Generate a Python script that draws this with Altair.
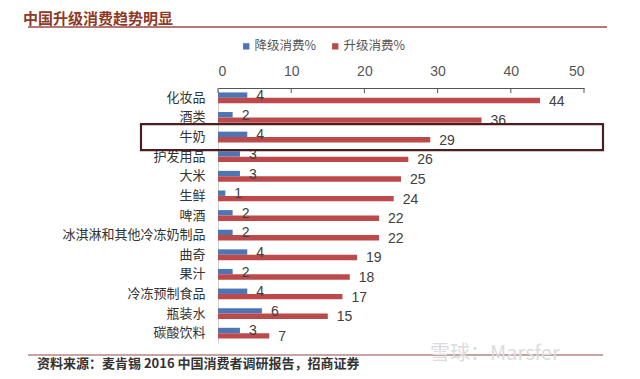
import altair as alt
import pandas as pd

categories = ["化妆品", "酒类", "牛奶", "护发用品", "大米", "生鲜", "啤酒",
              "冰淇淋和其他冷冻奶制品", "曲奇", "果汁", "冷冻预制食品", "瓶装水", "碳酸饮料"]
downgrade = [4, 2, 4, 3, 3, 1, 2, 2, 4, 2, 4, 6, 3]
upgrade = [44, 36, 29, 26, 25, 24, 22, 22, 19, 18, 17, 15, 7]
series_names = ["降级消费%", "升级消费%"]
series_colors = ["#4F74B4", "#BC4A4B"]
x_ticks = [0, 10, 20, 30, 40, 50]
highlight = ["牛奶"]
title_text = ["中国升级消费趋势明显"]
source_text = ["资料来源：麦肯锡 2016 中国消费者调研报告，招商证券"]
watermark_text = ["雪球：Marsfer"]

rows = []
for c, d, u in zip(categories, downgrade, upgrade):
    rows.append({"cat": c, "series": series_names[0], "value": d})
    rows.append({"cat": c, "series": series_names[1], "value": u})
df = pd.DataFrame(rows)

W, H = 366, 255
CJK = "Noto Sans CJK SC"
NUM = "Liberation Sans"

xscale = alt.Scale(domain=[0, 50], nice=False, zero=True)
yscale = alt.Scale(domain=categories, paddingInner=0.45, paddingOuter=0.225)
yoff = alt.YOffset("series:N", scale=alt.Scale(domain=series_names, paddingInner=0))

base = alt.Chart(df)

bars = base.mark_bar().encode(
    x=alt.X("value:Q", scale=xscale,
            axis=alt.Axis(orient="top", values=x_ticks, title=None, grid=False,
                          ticks=False, tickSize=0, labelPadding=10,
                          labelFont=NUM, labelFontSize=14, labelColor="#555555",
                          domainColor="#555555", domainWidth=1)),
    y=alt.Y("cat:N", scale=yscale,
            axis=alt.Axis(title=None, ticks=False, labelPadding=13, labelFont=CJK,
                          labelFontSize=13, labelColor="#333333", labelLimit=300,
                          domainColor="#d0d0d0", domainWidth=1)),
    yOffset=yoff,
    color=alt.Color("series:N", scale=alt.Scale(domain=series_names, range=series_colors),
                    legend=alt.Legend(title=None, orient="none", direction="horizontal",
                                      legendX=22, legendY=-48, symbolType="square",
                                      symbolSize=40, symbolStrokeWidth=0,
                                      labelFont=CJK, labelFontSize=12.5,
                                      labelColor="#555555", labelOffset=2,
                                      columnPadding=12)),
)

labels = base.mark_text(align="left", baseline="middle", dx=9, dy=1,
                        font=NUM, fontSize=14, color="#404040").encode(
    x=alt.X("value:Q", scale=xscale),
    y=alt.Y("cat:N", scale=yscale),
    yOffset=yoff,
    text=alt.Text("value:Q"),
)

tick_df = pd.DataFrame({"t": x_ticks})
ticks = alt.Chart(tick_df).mark_rule(color="#555555", strokeWidth=1).encode(
    x=alt.X("t:Q", scale=xscale),
    y=alt.value(0),
    y2=alt.value(5),
)

hl_df = pd.DataFrame({"cat": highlight})
box = alt.Chart(hl_df).mark_rect(filled=False, stroke="#4B1F1F", strokeWidth=2.2,
                                 height=26).encode(
    y=alt.Y("cat:N", scale=yscale),
    x=alt.value(-77),
    x2=alt.value(385),
)

title_df = pd.DataFrame({"t": title_text})
title = alt.Chart(title_df).mark_text(align="left", baseline="middle", font=CJK,
                                      fontSize=15, fontWeight="bold",
                                      color="#8E3A26").encode(
    x=alt.value(-195), y=alt.value(-69), text="t:N")

title_line = alt.Chart(title_df).mark_rule(color="#9A4A48", strokeWidth=1.5).encode(
    x=alt.value(-190), x2=alt.value(389), y=alt.value(-61))

src_df = pd.DataFrame({"t": source_text})
foot_line = alt.Chart(src_df).mark_rule(color="#8E4A48", strokeWidth=1.2).encode(
    x=alt.value(-190), x2=alt.value(385), y=alt.value(267))
footer = alt.Chart(src_df).mark_text(align="left", baseline="middle", font=CJK,
                                     fontSize=13, fontWeight="bold",
                                     color="#333333").encode(
    x=alt.value(-181), y=alt.value(276), text="t:N")

wm_df = pd.DataFrame({"t": watermark_text})
watermark = alt.Chart(wm_df).mark_text(align="left", baseline="middle", font=CJK,
                                       fontSize=20, color="#dcdcdc").encode(
    x=alt.value(212), y=alt.value(266), text="t:N")

chart = alt.layer(
    bars, labels, ticks, box, title_line, title, foot_line, watermark, footer
).properties(
    width=W, height=H,
    autosize=alt.AutoSizeParams(type="none"),
    padding={"left": 210, "top": 80, "right": 48, "bottom": 31},
    background="white",
).configure_view(stroke=None)

chart.save("out.html", embed_options={"renderer": "svg", "actions": False})
